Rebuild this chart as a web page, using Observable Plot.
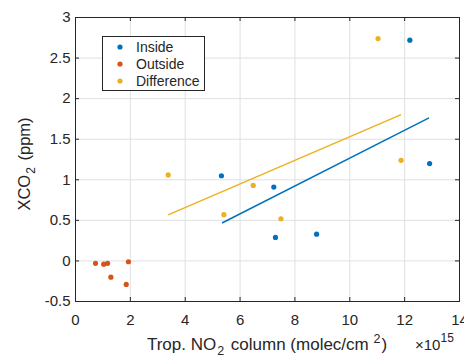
<!DOCTYPE html>
<html><head><meta charset="utf-8">
<script src="https://cdn.jsdelivr.net/npm/d3@7"></script>
<script src="https://cdn.jsdelivr.net/npm/@observablehq/plot@0.6"></script>
<style>
body{margin:0;background:#fff}
svg{font-family:"Liberation Sans",Arial,Helvetica,sans-serif}
</style>
</head><body><div id="chart"></div>
<script>
// ---- data ----
const seriesNames = ["Inside", "Outside", "Difference"];
const seriesColors = ["#0072BD", "#D95319", "#EDB120"];

const insideX = [5.32, 7.23, 7.29, 8.79, 12.19, 12.91];
const insideY = [1.05, 0.91, 0.29, 0.33, 2.72, 1.20];
const outsideX = [0.73, 1.03, 1.17, 1.29, 1.85, 1.93];
const outsideY = [-0.03, -0.04, -0.03, -0.20, -0.29, -0.01];
const diffX = [3.38, 5.41, 6.48, 7.49, 11.03, 11.87];
const diffY = [1.06, 0.57, 0.93, 0.52, 2.74, 1.24];

const insideFitX = [5.36, 12.87];
const insideFitY = [0.47, 1.76];
const diffFitX = [3.40, 11.85];
const diffFitY = [0.57, 1.80];

const xTicks = [0, 2, 4, 6, 8, 10, 12, 14];
const yTicks = [-0.5, 0, 0.5, 1, 1.5, 2, 2.5, 3];
const yTickLabels = ["-0.5", "0", "0.5", "1", "1.5", "2", "2.5", "3"];

// ---- tables ----
const toRows = (xs, ys, s) => xs.map((x, i) => ({x, y: ys[i], s}));
const points = [
  ...toRows(insideX, insideY, seriesNames[0]),
  ...toRows(outsideX, outsideY, seriesNames[1]),
  ...toRows(diffX, diffY, seriesNames[2])
];
const fits = [
  ...toRows(insideFitX, insideFitY, seriesNames[0]),
  ...toRows(diffFitX, diffFitY, seriesNames[2])
];

const W = 464, H = 358;
const mL = 75, mR = 5, mT = 17, mB = 57;
const fw = W - mL - mR, fh = H - mT - mB;
const tick = 4;
const axisColor = "#262626";
const gridColor = "#e0e0e0";

const plot = Plot.plot({
  width: W, height: H,
  marginLeft: mL, marginRight: mR, marginTop: mT, marginBottom: mB,
  style: {fontSize: "15px", color: axisColor, background: "#fff", overflow: "visible"},
  x: {domain: [0, 14], axis: null},
  y: {domain: [-0.5, 3], axis: null},
  color: {domain: seriesNames, range: seriesColors},
  marks: [
    Plot.ruleX(xTicks, {x: d => d, stroke: gridColor, strokeWidth: 1}),
    Plot.ruleY(yTicks, {y: d => d, stroke: gridColor, strokeWidth: 1}),
    Plot.line(fits, {x: "x", y: "y", z: "s", stroke: "s", strokeWidth: 1.5}),
    Plot.dot(points, {x: "x", y: "y", fill: "s", r: 2.6, stroke: null}),
    // inward ticks on all four sides
    Plot.tickX(xTicks, {x: d => d, insetTop: fh - tick, stroke: axisColor}),
    Plot.tickX(xTicks, {x: d => d, insetBottom: fh - tick, stroke: axisColor}),
    Plot.tickY(yTicks, {y: d => d, insetRight: fw - tick, stroke: axisColor}),
    Plot.tickY(yTicks, {y: d => d, insetLeft: fw - tick, stroke: axisColor}),
    Plot.axisX(xTicks, {tickSize: 0, tickPadding: 13, label: null, fontSize: 15, fill: axisColor}),
    Plot.axisY(yTicks, {tickSize: 0, tickPadding: 5, label: null, fontSize: 15, fill: axisColor,
      tickFormat: d => yTickLabels[yTicks.indexOf(d)]}),
    Plot.frame({stroke: axisColor, strokeWidth: 1})
  ]
});
document.getElementById("chart").appendChild(plot);

// ---- labels & legend ----
const svg = d3.select(plot);
const cx = (mL + W - mR) / 2;

// y label
const yl = svg.append("text")
  .attr("transform", `translate(30,164) rotate(-90)`)
  .attr("text-anchor", "middle").attr("fill", axisColor).attr("font-size", 16.5);
yl.append("tspan").text("XCO");
yl.append("tspan").attr("dx", 1).attr("dy", 5).attr("font-size", 12).text("2");
yl.append("tspan").attr("dx", 2).attr("dy", -5).text(" (ppm)");

// x label
const xl = svg.append("text")
  .attr("x", cx).attr("y", 350)
  .attr("text-anchor", "middle").attr("fill", axisColor).attr("font-size", 17);
xl.append("tspan").text("Trop. NO");
xl.append("tspan").attr("dx", 1).attr("dy", 5).attr("font-size", 12.5).text("2");
xl.append("tspan").attr("dx", 2).attr("dy", -5).text(" column (molec/cm ");
xl.append("tspan").attr("dy", -7).attr("font-size", 12.5).text("2");
xl.append("tspan").attr("dx", 1).attr("dy", 7).text(")");

// exponent
const ex = svg.append("text")
  .attr("x", 415).attr("y", 350).attr("text-anchor", "start")
  .attr("fill", axisColor).attr("font-size", 15);
ex.append("tspan").text("\u00d710");
ex.append("tspan").attr("dy", -8).attr("font-size", 12).text("15");

// legend
const lg = svg.append("g").attr("text-anchor", "start");
lg.append("rect").attr("x", 102.5).attr("y", 36.5).attr("width", 102).attr("height", 54)
  .attr("fill", "#fff").attr("stroke", axisColor).attr("stroke-width", 1);
seriesNames.forEach((name, i) => {
  const yy = 47 + i * 17;
  lg.append("circle").attr("cx", 120).attr("cy", yy).attr("r", 2.6).attr("fill", seriesColors[i]);
  lg.append("text").attr("x", 136).attr("y", yy).attr("dy", "0.35em")
    .attr("font-size", 14).attr("fill", axisColor).text(name);
});
</script>
</body></html>
